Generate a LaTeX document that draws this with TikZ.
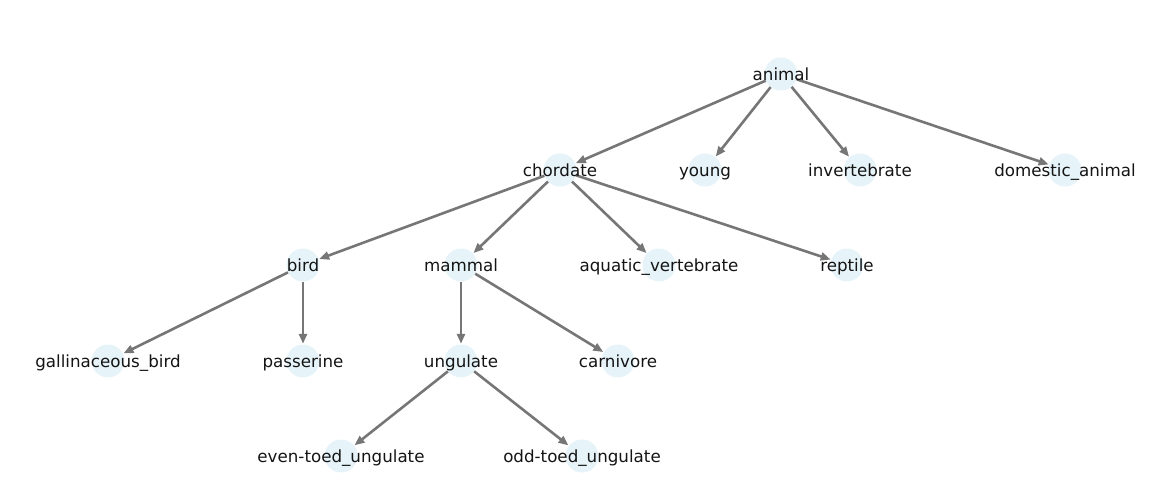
\documentclass[tikz,border=0pt]{standalone}
\usepackage{fontspec}
\setmainfont{DejaVu Sans}
\usetikzlibrary{arrows.meta}
\definecolor{nodeblue}{RGB}{230,243,248}
\definecolor{edgegrey}{RGB}{118,118,118}
\definecolor{txt}{RGB}{20,20,20}
\tikzset{
  dot/.style={circle, fill=nodeblue, draw=none, minimum size=33pt, inner sep=0pt},
  lbl/.style={text=txt, font=\fontsize{16.7pt}{20pt}\selectfont, inner sep=0pt, text height=12.7pt, text depth=3.9pt, yshift=-2pt},
  edge/.style={draw=edgegrey, line width=2.6pt, -{Stealth[length=10pt,width=8pt,inset=0pt]}, shorten >=0.5pt}
}
\begin{document}
\begin{tikzpicture}[x=1pt,y=-1pt]
\useasboundingbox (0,0) rectangle (1152,497);
% nodes (circles)
\node[dot] (animal) at (781,74) {};
\node[dot] (chordate) at (560,170) {};
\node[dot] (young) at (705,170) {};
\node[dot] (invertebrate) at (860,170) {};
\node[dot] (domestic) at (1065,170) {};
\node[dot] (bird) at (303,265) {};
\node[dot] (mammal) at (461,265) {};
\node[dot] (aquatic) at (659,265) {};
\node[dot] (reptile) at (847,265) {};
\node[dot] (galli) at (108,361) {};
\node[dot] (passerine) at (303,361) {};
\node[dot] (ungulate) at (461,361) {};
\node[dot] (carnivore) at (618,361) {};
\node[dot] (even) at (341,456) {};
\node[dot] (odd) at (582,456) {};
% edges
\draw[edge] (animal) -- (chordate);
\draw[edge] (animal) -- (young);
\draw[edge] (animal) -- (invertebrate);
\draw[edge] (animal) -- (domestic);
\draw[edge] (chordate) -- (bird);
\draw[edge] (chordate) -- (mammal);
\draw[edge] (chordate) -- (aquatic);
\draw[edge] (chordate) -- (reptile);
\draw[edge] (bird) -- (galli);
\draw[edge] (bird) -- (passerine);
\draw[edge] (mammal) -- (ungulate);
\draw[edge] (mammal) -- (carnivore);
\draw[edge] (ungulate) -- (even);
\draw[edge] (ungulate) -- (odd);
% labels
\node[lbl] (t-animal) at (animal) {animal};
\node[lbl] (t-chordate) at (chordate) {chordate};
\node[lbl] (t-young) at (young) {young};
\node[lbl] (t-invertebrate) at (invertebrate) {invertebrate};
\node[lbl] (t-domestic) at (domestic) {domestic\_animal};
\node[lbl] (t-bird) at (bird) {bird};
\node[lbl] (t-mammal) at (mammal) {mammal};
\node[lbl] (t-aquatic) at (aquatic) {aquatic\_vertebrate};
\node[lbl] (t-reptile) at (reptile) {reptile};
\node[lbl] (t-galli) at (galli) {gallinaceous\_bird};
\node[lbl] (t-passerine) at (passerine) {passerine};
\node[lbl] (t-ungulate) at (ungulate) {ungulate};
\node[lbl] (t-carnivore) at (carnivore) {carnivore};
\node[lbl] (t-even) at (even) {even-toed\_ungulate};
\node[lbl] (t-odd) at (odd) {odd-toed\_ungulate};
\end{tikzpicture}
\end{document}
